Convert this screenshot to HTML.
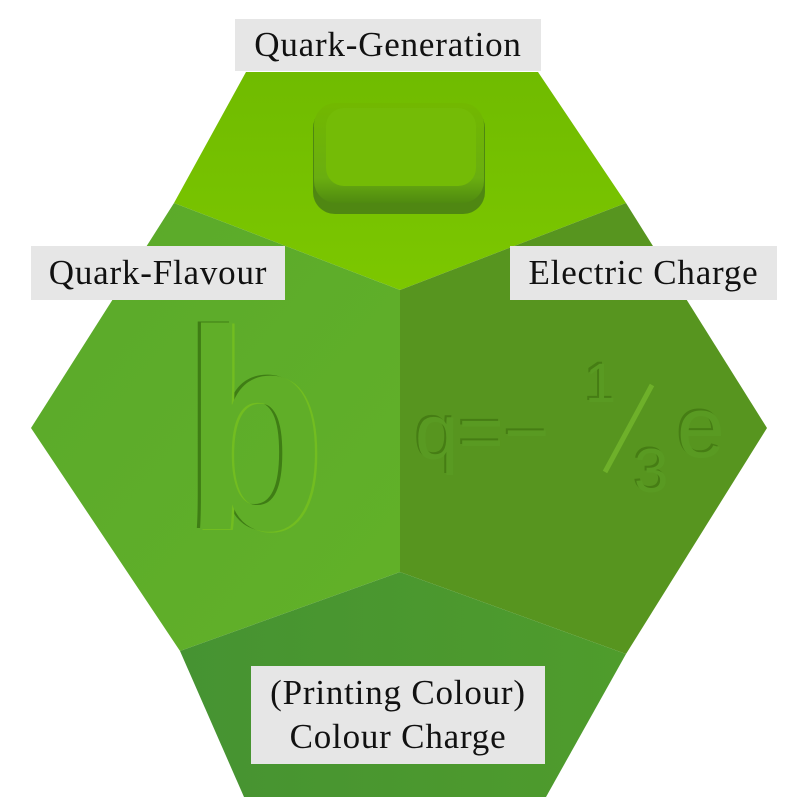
<!DOCTYPE html>
<html><head><meta charset="utf-8"><style>
html,body{margin:0;padding:0;background:#fff;width:800px;height:800px;overflow:hidden}
.lab{position:absolute;background:#e6e6e6;font-family:"Liberation Serif",serif;font-size:35px;letter-spacing:0.8px;color:#111;text-align:center}
</style></head><body>
<svg width="800" height="800" style="position:absolute;left:0;top:0">
<defs>
<linearGradient id="tg" x1="0" y1="0" x2="0" y2="1"><stop offset="0" stop-color="#70bb00"/><stop offset="1" stop-color="#7cc700"/></linearGradient>
<linearGradient id="lg" x1="0" y1="0" x2="1" y2="1"><stop offset="0" stop-color="#5aa92b"/><stop offset="1" stop-color="#62b128"/></linearGradient>
<linearGradient id="bg" x1="0" y1="0" x2="1" y2="0"><stop offset="0" stop-color="#469332"/><stop offset="1" stop-color="#4f9c2c"/></linearGradient>
<linearGradient id="tile" x1="0" y1="0" x2="0" y2="1"><stop offset="0" stop-color="#72b800"/><stop offset="0.75" stop-color="#6aae10"/><stop offset="1" stop-color="#4f8a10"/></linearGradient>
</defs>
<polygon points="246,72 538,72 626,203 400,290 174,203" fill="url(#tg)"/>
<polygon points="174,203 400,290 400,572 180,651 31,428" fill="url(#lg)"/>
<polygon points="626,203 767,428 626,654 400,572 400,290" fill="#57951f"/>
<polygon points="400,572 626,654 546,797 244,797 180,651" fill="url(#bg)"/>
<rect x="313" y="106" width="172" height="108" rx="22" fill="#4f8712"/>
<rect x="314" y="103" width="170" height="100" rx="22" fill="url(#tile)"/>
<rect x="326" y="108" width="150" height="78" rx="18" fill="#74bb06"/>
<g font-family="Liberation Sans,sans-serif" font-weight="bold" font-size="285" transform="translate(185,0) scale(0.8,1)">
<text x="-4" y="528" fill="#3f7d15">b</text>
<text x="3" y="530" fill="#72bd20">b</text>
<text x="0" y="529" fill="#60ae28">b</text>
</g>
<g font-family="Liberation Sans,sans-serif">
<g fill="#467d14">
<text x="413" y="457" font-size="78">q=−</text>
<text x="583" y="400" font-size="56">1</text>
<text x="632" y="490" font-size="62">3</text>
<text x="675" y="455" font-size="86">e</text>
</g>
<g fill="#599a22">
<text x="415" y="459" font-size="78">q=−</text>
<text x="585" y="402" font-size="56">1</text>
<text x="634" y="492" font-size="62">3</text>
<text x="677" y="457" font-size="86">e</text>
</g>
</g>
<line x1="605" y1="472" x2="652" y2="385" stroke="#6eb02a" stroke-width="5"/>
</svg>
<div class="lab" style="left:235px;top:19px;width:306px;height:52px;line-height:52px">Quark-Generation</div>
<div class="lab" style="left:31px;top:246px;width:254px;height:54px;line-height:54px">Quark-Flavour</div>
<div class="lab" style="left:510px;top:246px;width:267px;height:54px;line-height:54px">Electric Charge</div>
<div class="lab" style="left:251px;top:666px;width:294px;height:98px;line-height:44px;padding-top:5px;box-sizing:border-box">(Printing Colour)<br>Colour Charge</div>
</body></html>
